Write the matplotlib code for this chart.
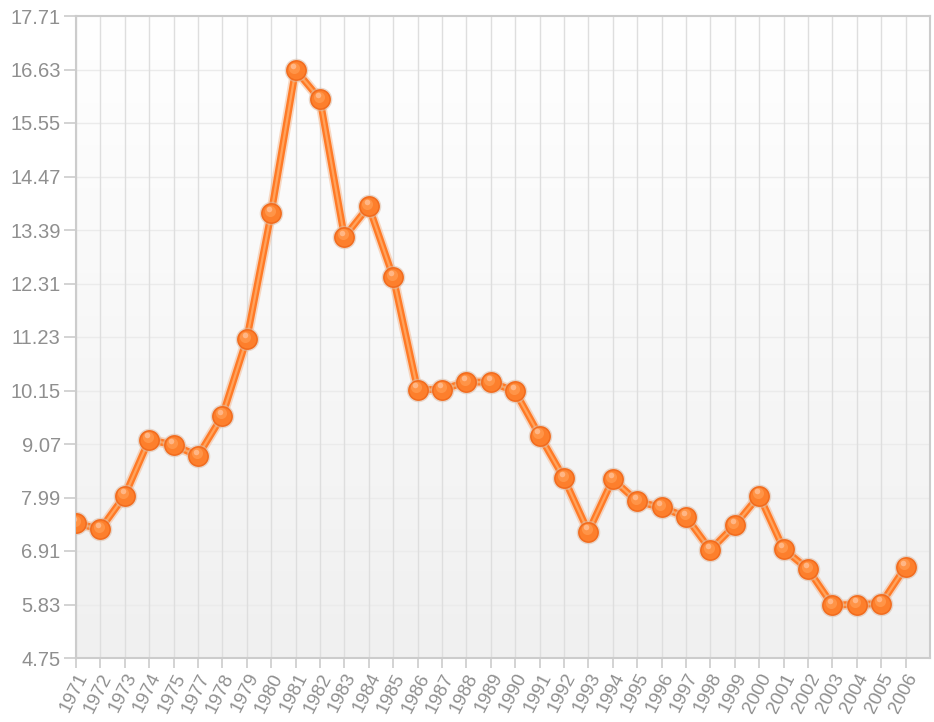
import numpy as np
import matplotlib
matplotlib.use("Agg")
import matplotlib.pyplot as plt
from matplotlib.colors import LinearSegmentedColormap

years = ["1971", "1972", "1973", "1974", "1975", "1977", "1978", "1979", "1980",
         "1981", "1982", "1983", "1984", "1985", "1986", "1987", "1988", "1989",
         "1990", "1991", "1992", "1993", "1994", "1995", "1996", "1997", "1998",
         "1999", "2000", "2001", "2002", "2003", "2004", "2005", "2006"]
values = [7.47, 7.35, 8.03, 9.16, 9.05, 8.83, 9.64, 11.19, 13.73,
          16.62, 16.03, 13.25, 13.87, 12.44, 10.17, 10.17, 10.32, 10.32,
          10.13, 9.24, 8.38, 7.30, 8.36, 7.91, 7.79, 7.60, 6.93,
          7.43, 8.03, 6.95, 6.54, 5.82, 5.83, 5.85, 6.59]
y_ticks = [4.75, 5.83, 6.91, 7.99, 9.07, 10.15, 11.23, 12.31, 13.39, 14.47, 15.55, 16.63, 17.71]

plt.rcParams['font.family'] = ['Liberation Sans', 'DejaVu Sans']

fig = plt.figure(figsize=(9.34, 7.22), dpi=100)
ax = fig.add_axes([76 / 934, 1 - 658 / 722, (930 - 76) / 934, (658 - 16) / 722])

x = np.arange(len(years))
ymin, ymax = y_ticks[0], y_ticks[-1]
ax.set_xlim(0, len(years))
ax.set_ylim(ymin, ymax)

# background gradient (light gray at bottom, white at top)
grad = np.linspace(0, 1, 256).reshape(-1, 1)
cmap_bg = LinearSegmentedColormap.from_list("bg", ["#f0f0f0", "#ffffff"])
ax.imshow(grad, aspect='auto', cmap=cmap_bg, extent=[0, len(years), ymin, ymax],
          zorder=0, origin='lower')

# grid
for yt in y_ticks[1:-1]:
    ax.axhline(yt, color="#ebebeb", lw=1.0, zorder=1)
for xi in x:
    ax.axvline(xi, color="#dedede", lw=1.0, zorder=1)

# line: outer + inner highlight
ax.plot(x, values, color="#f3b58c", lw=7.5, zorder=2, solid_capstyle='round', alpha=0.5)
ax.plot(x, values, color="#ff7a26", lw=5.0, zorder=3, solid_capstyle='round')
ax.plot(x, values, color="#ffa35c", lw=1.6, zorder=4, solid_capstyle='round')

# glossy markers
vals = np.array(values)
ax.scatter(x, vals, s=17.0 ** 2, color="#dcbca6", alpha=0.55, zorder=5, linewidths=0)
ax.scatter(x, vals, s=15.0 ** 2, color="#f26b1d", zorder=6, linewidths=0)
ax.scatter(x, vals, s=12.8 ** 2, color="#fd7f2c", zorder=7, linewidths=0)
ax.scatter(x - 0.06, vals + 0.05, s=8.0 ** 2, color="#ff9447", zorder=8, linewidths=0)
ax.scatter(x - 0.09, vals + 0.085, s=4.0 ** 2, color="#ffb685", zorder=9, linewidths=0)

# axes styling
ax.set_yticks(y_ticks)
ax.set_yticklabels([f"{v:.2f}" for v in y_ticks])
ax.set_xticks(x)
ax.set_xticklabels(years, rotation=63, ha='right', rotation_mode='anchor')
for sp in ax.spines.values():
    sp.set_color("#cccccc")
    sp.set_linewidth(1.5)
ax.tick_params(axis='y', length=9, width=1.2, color="#cccccc", labelsize=14.5,
               labelcolor="#8f8f8f", pad=2)
ax.tick_params(axis='x', length=7, width=1.2, color="#cccccc", labelsize=13.5,
               labelcolor="#8f8f8f", pad=2)

fig.savefig("out.png", dpi=100, facecolor="white")
